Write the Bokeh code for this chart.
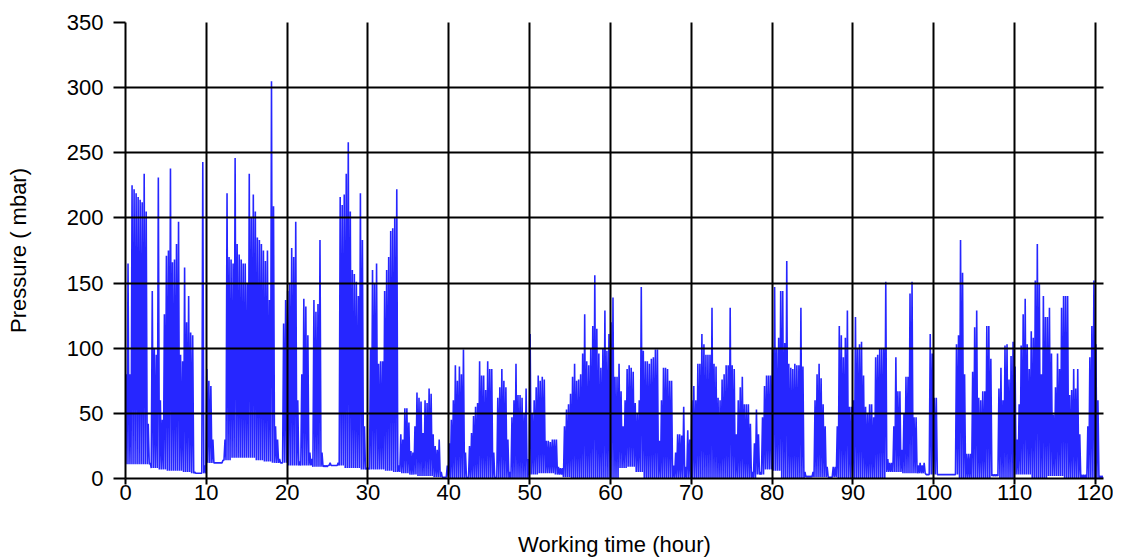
from bokeh.plotting import figure
from bokeh.models import Range1d, FixedTicker, ColumnDataSource
from bokeh.embed import file_html
from bokeh.resources import INLINE
import numpy as np

# Peak pressure (mbar) read per quarter-hour slot, 5 hours per row
peaks = [
    80, 165, 80, 225, 222, 219, 216, 214, 212, 234, 205, 42, 12, 144, 100, 95, 231, 60, 45, 126,
    171, 175, 238, 166, 168, 180, 197, 95, 90, 162, 120, 140, 112, 110, 5, 4, 4, 4, 243, 10,
    84, 75, 71, 30, 12, 12, 12, 12, 14, 30, 219, 170, 168, 165, 246, 180, 172, 168, 165, 165,
    150, 234, 200, 218, 205, 185, 183, 180, 175, 167, 175, 137, 305, 209, 40, 30, 15, 12, 119, 137,
    144, 150, 177, 170, 197, 60, 13, 80, 138, 132, 110, 20, 15, 137, 128, 134, 183, 20, 10, 10,
    10, 12, 10, 9, 10, 12, 216, 210, 218, 234, 258, 205, 160, 157, 151, 140, 219, 183, 40, 8,
    8, 100, 160, 150, 165, 88, 90, 90, 144, 160, 170, 190, 192, 200, 222, 10, 34, 30, 54, 54,
    43, 21, 20, 40, 66, 62, 59, 35, 60, 58, 69, 65, 34, 25, 22, 30, 5, 1, 1, 10,
    27, 45, 60, 87, 75, 86, 80, 99, 20, 1, 25, 35, 48, 55, 58, 90, 79, 79, 68, 90,
    84, 84, 20, 1, 62, 70, 84, 75, 70, 30, 5, 47, 60, 88, 64, 64, 62, 50, 69, 15,
    111, 50, 60, 70, 79, 75, 78, 76, 29, 29, 28, 30, 30, 30, 9, 8, 8, 40, 53, 57,
    65, 78, 88, 75, 76, 80, 96, 126, 90, 87, 100, 117, 156, 115, 96, 85, 100, 129, 98, 111,
    120, 139, 78, 78, 88, 67, 40, 60, 84, 87, 85, 82, 58, 50, 60, 147, 98, 90, 90, 88,
    92, 93, 99, 99, 29, 60, 85, 85, 84, 75, 75, 10, 20, 34, 34, 33, 55, 9, 37, 30,
    60, 71, 60, 88, 88, 111, 103, 95, 95, 95, 131, 88, 86, 62, 60, 76, 80, 87, 87, 131,
    87, 84, 34, 60, 70, 78, 57, 57, 57, 42, 5, 27, 53, 34, 5, 47, 71, 79, 79, 79,
    100, 147, 100, 108, 144, 144, 104, 167, 88, 85, 84, 88, 87, 87, 131, 86, 5, 2, 2, 2,
    5, 60, 80, 88, 77, 57, 40, 9, 1, 1, 9, 9, 40, 117, 110, 93, 108, 129, 55, 55,
    60, 124, 100, 103, 105, 79, 55, 50, 57, 57, 47, 93, 95, 100, 100, 100, 151, 15, 12, 12,
    40, 93, 67, 67, 22, 50, 78, 78, 142, 151, 47, 47, 10, 12, 10, 12, 3, 3, 111, 96,
    62, 62, 3, 2, 2, 2, 2, 2, 2, 2, 2, 103, 110, 183, 158, 80, 19, 19, 19, 82,
    116, 129, 62, 60, 67, 67, 117, 117, 92, 3, 3, 3, 69, 85, 60, 102, 103, 76, 94, 105,
    86, 30, 57, 102, 126, 138, 103, 84, 113, 108, 152, 180, 150, 80, 140, 124, 124, 131, 96, 49,
    70, 96, 84, 131, 140, 140, 140, 64, 68, 84, 69, 84, 34, 3, 3, 3, 40, 93, 117, 152,
    103, 60, 2, 2,
]

# Baseline pressure (mbar) between pulses, one value per hour
baseline = [
    11, 11, 11, 8, 7, 6, 6, 5, 4, 4,
    12, 12, 14, 16, 16, 16, 14, 13, 12, 12,
    10, 10, 10, 9, 9, 10, 10, 8, 8, 7,
    7, 7, 6, 5, 4, 3, 2, 2, 1, 1,
    0, 0, 0, 0, 0, 0, 0, 0, 0, 0,
    3, 4, 4, 3, 1, 0, 0, 0, 0, 0,
    0, 8, 9, 5, 0, 0, 0, 0, 0, 0,
    0, 0, 0, 0, 0, 0, 0, 0, 3, 7,
    6, 0, 0, 0, 1, 1, 1, 1, 0, 0,
    0, 0, 0, 0, 5, 5, 4, 4, 4, 3,
    3, 3, 3, 0, 0, 0, 0, 2, 0, 0,
    3, 3, 0, 0, 2, 2, 0, 0, 0, 0, 0,
]

x_ticks = [0, 10, 20, 30, 40, 50, 60, 70, 80, 90, 100, 110, 120]
y_ticks = [0, 50, 100, 150, 200, 250, 300, 350]

slot = 0.25
ts, ps = [], []
for k, hi in enumerate(peaks):
    lo = baseline[min(int(k * slot), len(baseline) - 1)]
    ts.append(k * slot + slot * 0.25)
    ps.append(max(hi, lo))
    ts.append(k * slot + slot * 0.75)
    ps.append(lo)

src = ColumnDataSource(data=dict(t=ts, p=ps))

p = figure(width=1113, height=559, output_backend="svg", toolbar_location=None,
           x_range=Range1d(0, 121), y_range=Range1d(0, 350),
           min_border_left=125, min_border_right=10, min_border_top=22, min_border_bottom=81)
p.outline_line_color = None
p.background_fill_color = "white"

p.line("t", "p", source=src, line_color="#0000ff", line_alpha=0.85, line_width=1.6)

p.xaxis.ticker = FixedTicker(ticks=x_ticks)
p.yaxis.ticker = FixedTicker(ticks=y_ticks)
for g in (p.xgrid, p.ygrid):
    g.grid_line_color = "#000000"
    g.grid_line_width = 2
    g.level = "overlay"
p.xgrid.ticker = FixedTicker(ticks=x_ticks)
p.ygrid.ticker = FixedTicker(ticks=y_ticks)

for ax in (p.xaxis[0], p.yaxis[0]):
    ax.axis_line_color = "#000000"
    ax.axis_line_width = 2
    ax.major_tick_line_color = "#000000"
    ax.major_tick_line_width = 2
    ax.major_tick_in = 0
    ax.minor_tick_line_color = None
    ax.major_label_text_font = "Liberation Sans"
    ax.major_label_text_font_size = "22px"
    ax.major_label_text_color = "#000000"
    ax.axis_label_text_font = "Liberation Sans"
    ax.axis_label_text_font_size = "22px"
    ax.axis_label_text_font_style = "normal"
    ax.axis_label_text_color = "#000000"

p.xaxis.major_tick_out = 6
p.xaxis.major_label_standoff = 0
p.xaxis.axis_label = "Working time (hour)"
p.xaxis.axis_label_standoff = 29
p.yaxis.major_tick_out = 12
p.yaxis.major_label_standoff = 10
p.yaxis.axis_label = "Pressure ( mbar)"
p.yaxis.axis_label_standoff = 33

open("out.html", "w").write(file_html(p, INLINE))
